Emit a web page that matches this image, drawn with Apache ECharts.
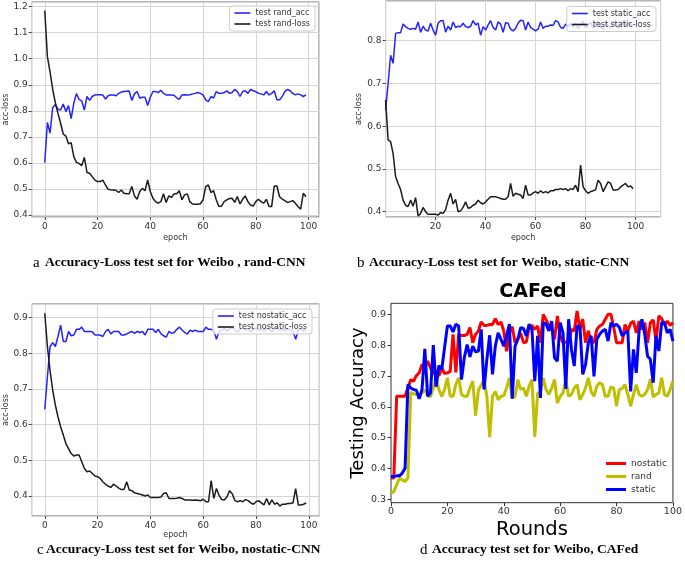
<!DOCTYPE html>
<html><head><meta charset="utf-8">
<script src="https://cdn.jsdelivr.net/npm/echarts@6/dist/echarts.min.js"></script>
<style>html,body{margin:0;padding:0;background:#fff}#c{width:685px;height:563px}</style>
</head><body><div id="c"></div>
<script>
// ---------- data ----------
const randAcc=[0.601,0.755,0.714,0.813,0.824,0.806,0.803,0.826,0.797,0.82,0.77,0.829,0.866,0.844,0.838,0.803,0.855,0.84,0.855,0.861,0.862,0.862,0.861,0.845,0.858,0.861,0.861,0.858,0.867,0.872,0.874,0.875,0.876,0.84,0.865,0.874,0.848,0.852,0.852,0.82,0.852,0.874,0.874,0.87,0.879,0.867,0.861,0.861,0.861,0.86,0.85,0.844,0.861,0.862,0.861,0.862,0.865,0.867,0.87,0.867,0.861,0.842,0.835,0.855,0.849,0.874,0.867,0.867,0.87,0.877,0.867,0.87,0.882,0.874,0.855,0.874,0.877,0.867,0.882,0.877,0.874,0.867,0.865,0.861,0.874,0.861,0.867,0.877,0.842,0.842,0.855,0.874,0.882,0.877,0.867,0.861,0.865,0.861,0.855,0.861];
const randLoss=[1.185,1.008,0.95,0.883,0.831,0.79,0.752,0.711,0.703,0.673,0.678,0.624,0.602,0.598,0.589,0.621,0.563,0.56,0.547,0.534,0.528,0.528,0.534,0.515,0.499,0.497,0.496,0.495,0.486,0.496,0.483,0.481,0.481,0.509,0.473,0.46,0.49,0.502,0.493,0.534,0.49,0.464,0.451,0.445,0.451,0.481,0.448,0.473,0.467,0.481,0.481,0.493,0.458,0.477,0.481,0.451,0.442,0.441,0.441,0.443,0.458,0.509,0.515,0.486,0.493,0.458,0.432,0.434,0.451,0.458,0.463,0.464,0.448,0.471,0.442,0.46,0.473,0.451,0.438,0.434,0.451,0.46,0.451,0.445,0.46,0.432,0.432,0.511,0.511,0.47,0.461,0.455,0.448,0.451,0.455,0.445,0.432,0.422,0.483,0.47];
const staticAcc=[0.638,0.70,0.766,0.747,0.817,0.819,0.819,0.839,0.833,0.829,0.827,0.829,0.827,0.844,0.82,0.834,0.825,0.823,0.841,0.825,0.813,0.841,0.847,0.847,0.82,0.834,0.825,0.844,0.831,0.834,0.833,0.841,0.833,0.831,0.834,0.847,0.837,0.841,0.813,0.833,0.825,0.837,0.847,0.831,0.825,0.844,0.839,0.82,0.842,0.841,0.827,0.823,0.829,0.841,0.848,0.847,0.825,0.844,0.831,0.827,0.823,0.827,0.844,0.829,0.834,0.834,0.837,0.836,0.847,0.844,0.831,0.829,0.839,0.833,0.841,0.832,0.842,0.828,0.838,0.845,0.83,0.836,0.843,0.829,0.84,0.846,0.833,0.827,0.841,0.836,0.83,0.845,0.838,0.829,0.84,0.844,0.834,0.842,0.838,0.835];
const staticLoss=[0.661,0.568,0.564,0.536,0.482,0.466,0.452,0.427,0.415,0.412,0.427,0.413,0.433,0.39,0.396,0.41,0.4,0.394,0.394,0.394,0.394,0.392,0.398,0.396,0.405,0.427,0.443,0.418,0.429,0.4,0.402,0.41,0.423,0.408,0.41,0.415,0.418,0.427,0.421,0.418,0.423,0.429,0.435,0.435,0.435,0.433,0.431,0.429,0.429,0.435,0.466,0.436,0.443,0.441,0.439,0.431,0.462,0.439,0.439,0.444,0.447,0.443,0.449,0.444,0.447,0.444,0.449,0.449,0.452,0.452,0.454,0.452,0.454,0.449,0.454,0.452,0.462,0.447,0.509,0.458,0.449,0.443,0.447,0.449,0.451,0.474,0.466,0.447,0.458,0.47,0.466,0.451,0.451,0.452,0.458,0.462,0.466,0.458,0.46,0.454];
const nostaticAcc=[0.643,0.734,0.819,0.83,0.819,0.847,0.879,0.833,0.833,0.861,0.849,0.851,0.867,0.867,0.873,0.861,0.861,0.861,0.86,0.851,0.851,0.851,0.847,0.861,0.867,0.854,0.861,0.861,0.861,0.851,0.851,0.854,0.858,0.861,0.856,0.861,0.858,0.861,0.851,0.867,0.867,0.867,0.858,0.867,0.854,0.849,0.845,0.861,0.856,0.858,0.867,0.873,0.865,0.858,0.854,0.865,0.861,0.865,0.861,0.861,0.861,0.873,0.867,0.867,0.864,0.839,0.861,0.865,0.869,0.862,0.868,0.872,0.865,0.86,0.867,0.87,0.864,0.869,0.861,0.866,0.871,0.864,0.868,0.862,0.87,0.866,0.861,0.868,0.872,0.864,0.867,0.863,0.869,0.865,0.862,0.839,0.865,0.868,0.862,0.867];
const nostaticLoss=[0.912,0.819,0.751,0.697,0.655,0.622,0.594,0.571,0.547,0.533,0.519,0.512,0.515,0.515,0.496,0.477,0.468,0.47,0.463,0.456,0.454,0.449,0.44,0.433,0.428,0.424,0.433,0.428,0.422,0.418,0.418,0.44,0.417,0.415,0.409,0.407,0.405,0.403,0.4,0.403,0.396,0.396,0.396,0.396,0.397,0.407,0.409,0.393,0.393,0.393,0.394,0.396,0.393,0.389,0.389,0.389,0.388,0.389,0.388,0.387,0.391,0.384,0.384,0.443,0.393,0.421,0.402,0.39,0.389,0.398,0.415,0.406,0.387,0.384,0.387,0.384,0.39,0.387,0.381,0.377,0.384,0.387,0.381,0.375,0.393,0.375,0.389,0.377,0.381,0.372,0.377,0.377,0.379,0.379,0.381,0.421,0.375,0.375,0.377,0.381];
const cafedNostatic=[0.369,0.369,0.634,0.634,0.634,0.634,0.662,0.688,0.683,0.701,0.71,0.737,0.73,0.748,0.726,0.708,0.715,0.701,0.726,0.708,0.71,0.715,0.835,0.712,0.835,0.831,0.831,0.835,0.857,0.808,0.835,0.846,0.875,0.864,0.864,0.867,0.867,0.886,0.867,0.875,0.846,0.78,0.84,0.86,0.808,0.821,0.838,0.808,0.81,0.857,0.864,0.851,0.862,0.808,0.9,0.882,0.864,0.853,0.819,0.895,0.83,0.808,0.81,0.808,0.851,0.846,0.911,0.851,0.884,0.808,0.846,0.813,0.808,0.851,0.862,0.867,0.884,0.9,0.9,0.857,0.808,0.808,0.808,0.867,0.846,0.871,0.878,0.84,0.878,0.851,0.873,0.808,0.873,0.882,0.813,0.895,0.886,0.867,0.878,0.864,0.873];
const cafedRand=[0.32,0.325,0.347,0.369,0.363,0.358,0.369,0.647,0.642,0.64,0.636,0.645,0.654,0.64,0.632,0.661,0.694,0.656,0.634,0.656,0.694,0.634,0.634,0.672,0.694,0.64,0.634,0.634,0.661,0.683,0.571,0.655,0.67,0.688,0.634,0.502,0.634,0.65,0.623,0.634,0.636,0.661,0.694,0.629,0.634,0.688,0.656,0.661,0.634,0.667,0.688,0.502,0.645,0.645,0.694,0.656,0.64,0.661,0.688,0.612,0.634,0.645,0.688,0.634,0.64,0.661,0.672,0.623,0.64,0.661,0.694,0.65,0.634,0.667,0.678,0.672,0.634,0.634,0.665,0.66,0.602,0.656,0.66,0.672,0.64,0.602,0.64,0.672,0.64,0.634,0.64,0.656,0.69,0.632,0.64,0.645,0.694,0.64,0.634,0.656,0.683];
const cafedStatic=[0.374,0.374,0.376,0.376,0.385,0.401,0.672,0.661,0.656,0.654,0.626,0.656,0.788,0.634,0.645,0.8,0.665,0.734,0.721,0.792,0.862,0.862,0.843,0.868,0.862,0.688,0.759,0.802,0.762,0.797,0.778,0.781,0.851,0.656,0.754,0.832,0.705,0.797,0.84,0.819,0.797,0.83,0.868,0.626,0.797,0.819,0.857,0.854,0.83,0.868,0.851,0.683,0.83,0.629,0.873,0.868,0.846,0.878,0.759,0.748,0.873,0.84,0.658,0.884,0.786,0.732,0.862,0.862,0.705,0.737,0.808,0.83,0.699,0.819,0.835,0.846,0.851,0.813,0.873,0.862,0.868,0.857,0.83,0.84,0.846,0.65,0.786,0.71,0.846,0.884,0.835,0.764,0.754,0.678,0.83,0.781,0.873,0.873,0.84,0.851,0.813];

const captions=[
  {letter:'a', text:'Accuracy-Loss test set for Weibo , rand-CNN', lx:33, tx:45, y:263},
  {letter:'b', text:'Accuracy-Loss test set for Weibo, static-CNN', lx:357, tx:369, y:263},
  {letter:'c', text:'Accuracy-Loss test set for Weibo, nostatic-CNN', lx:37, tx:46, y:550},
  {letter:'d', text:'Accuracy test set for Weibo, CAFed', lx:420, tx:432, y:550}
];

// ---------- chart ----------
const F='DejaVu Sans';
const chart=echarts.init(document.getElementById('c'),null,{renderer:'canvas'});
const pairs=a=>a.map((v,i)=>[i,v]);
const BLUE='#2323ff', BLACK='#1c1c1c';

function xAx(g,min,max,extra){
  return Object.assign({gridIndex:g,type:'value',min:min,max:max,splitNumber:5,
    axisLine:{show:false,onZero:false},
    axisTick:{show:true,length:3,lineStyle:{color:'#444'}},
    axisLabel:{fontSize:9,color:'#333',fontFamily:F,margin:5,showMinLabel:false,showMaxLabel:false},
    splitLine:{show:true,lineStyle:{color:'#d4d4d4',width:1}},
    name:'epoch',nameLocation:'middle',nameGap:17,nameTextStyle:{fontSize:8,color:'#333',fontFamily:F}},extra||{});
}
function yAx(g,min,max,split,extra){
  return Object.assign({gridIndex:g,type:'value',min:min,max:max,splitNumber:split,
    axisLine:{show:false,onZero:false},
    axisTick:{show:true,length:3,lineStyle:{color:'#444'}},
    axisLabel:{fontSize:9,color:'#333',fontFamily:F,margin:4,showMinLabel:false,showMaxLabel:false,formatter:v=>v.toFixed(1)},
    splitLine:{show:true,lineStyle:{color:'#d4d4d4',width:1}},
    name:'acc-loss',nameLocation:'middle',nameGap:20,nameTextStyle:{fontSize:8,color:'#333',fontFamily:F}},extra||{});
}
function ln(name,data,xi,color,w){
  return {type:'line',name:name,data:pairs(data),xAxisIndex:xi,yAxisIndex:xi,
    symbol:'none',showSymbol:false,lineStyle:{color:color,width:w},itemStyle:{color:color},
    animation:false,clip:true};
}
function legendBox(names,right,top){
  return {data:names,orient:'vertical',right:right,top:top,icon:'rect',itemWidth:16,itemHeight:1.6,itemGap:3,
    padding:[3,5,3,5],borderColor:'#cccccc',borderWidth:1,borderRadius:3,
    backgroundColor:'rgba(255,255,255,0.8)',selectedMode:false,
    textStyle:{fontSize:8,color:'#333',fontFamily:F}};
}

const graphics=[];
captions.forEach(c=>{
  graphics.push({type:'text',x:c.lx,y:c.y,style:{text:c.letter,font:'15px "Liberation Serif"',fill:'#000',textVerticalAlign:'middle'}});
  graphics.push({type:'text',x:c.tx,y:c.y,style:{text:c.text,font:'bold 13.5px "Liberation Serif"',fill:'#000',textVerticalAlign:'middle'}});
});
graphics.push({type:'text',x:533,y:292,style:{text:'CAFed',font:'bold 19px "DejaVu Sans"',fill:'#000',textAlign:'center',textVerticalAlign:'middle'}});

const option={
  animation:false,
  backgroundColor:'#fff',
  grid:[
    {left:31.7,top:2,width:287.3,height:215,show:true,borderColor:'#6e6e6e',borderWidth:1},
    {left:385.6,top:1,width:275,height:216,show:true,borderColor:'#6e6e6e',borderWidth:1},
    {left:31.7,top:304,width:287.6,height:212,show:true,borderColor:'#6e6e6e',borderWidth:1},
    {left:391,top:303.3,width:285,height:199.4,show:true,borderColor:'#333',borderWidth:1}
  ],
  xAxis:[
    xAx(0,-4.95,103.95),
    xAx(1,0,110),
    xAx(2,-4.95,103.95,{nameGap:15}),
    xAx(3,0,100,{splitLine:{show:false},name:'Rounds',nameGap:17,
      axisTick:{show:true,length:3.5,lineStyle:{color:'#333'}},
      axisLabel:{fontSize:9.5,color:'#333',fontFamily:F,margin:4,showMinLabel:true,showMaxLabel:true},
      nameTextStyle:{fontSize:19.5,color:'#000',fontFamily:F}})
  ],
  yAxis:[
    yAx(0,0.392,1.218,8),
    yAx(1,0.3876,0.893,5,{nameGap:17}),
    yAx(2,0.344,0.938,5),
    yAx(3,0.289,0.9357,6,{splitLine:{show:false},name:'Testing Accuracy',nameGap:24,
      axisTick:{show:true,length:3.5,lineStyle:{color:'#333'}},
      axisLabel:{fontSize:9.5,color:'#333',fontFamily:F,margin:5,showMinLabel:false,showMaxLabel:false,formatter:v=>v.toFixed(1)},
      nameTextStyle:{fontSize:18,color:'#000',fontFamily:F}})
  ],
  legend:[
    legendBox(['test rand_acc','test rand-loss'],370,6),
    legendBox(['test static_acc','test static-loss'],29,6.5),
    legendBox(['test nostatic_acc','test nostatic-loss'],373,309),
    {data:['nostatic','rand','static'],orient:'vertical',left:606,top:459,icon:'rect',itemWidth:20,itemHeight:3,itemGap:4,
      padding:0,selectedMode:false,textStyle:{fontSize:9,color:'#333',fontFamily:F}}
  ],
  series:[
    ln('test rand_acc',randAcc,0,BLUE,1.5),
    ln('test rand-loss',randLoss,0,BLACK,1.5),
    ln('test static_acc',staticAcc,1,BLUE,1.5),
    ln('test static-loss',staticLoss,1,BLACK,1.5),
    ln('test nostatic_acc',nostaticAcc,2,BLUE,1.5),
    ln('test nostatic-loss',nostaticLoss,2,BLACK,1.5),
    ln('nostatic',cafedNostatic,3,'#ff0000',3),
    ln('rand',cafedRand,3,'#bfbf00',3),
    ln('static',cafedStatic,3,'#0000ff',3)
  ],
  graphic:graphics
};
chart.setOption(option);
</script></body></html>
